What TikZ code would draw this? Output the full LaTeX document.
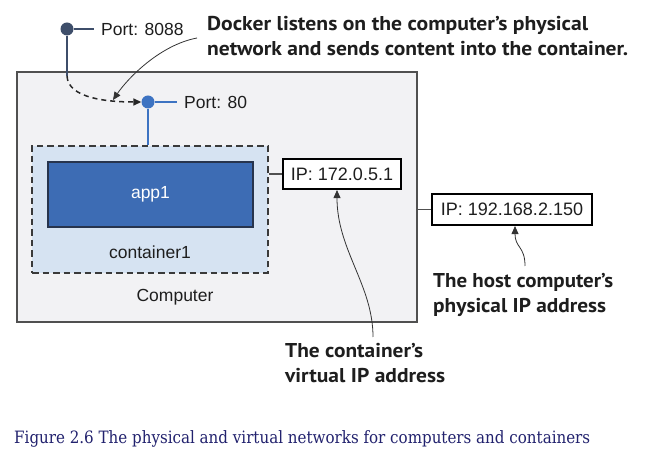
\documentclass[tikz,border=0pt]{standalone}
\usepackage{fontspec}
\setmainfont{Liberation Sans}
\newfontfamily\callfont{PT Sans}
\newfontfamily\capfont{DejaVu Serif}
\usetikzlibrary{arrows.meta}
\definecolor{compfill}{HTML}{F2F2F4}
\definecolor{compdraw}{HTML}{505050}
\definecolor{contfill}{HTML}{D6E3F2}
\definecolor{contdraw}{HTML}{3A3A3A}
\definecolor{appfill}{HTML}{3D6CB4}
\definecolor{appdraw}{HTML}{27344D}
\definecolor{portA}{HTML}{3E4E6A}
\definecolor{portB}{HTML}{3D73C2}
\definecolor{capcol}{HTML}{22226E}
\definecolor{txt}{HTML}{1E1E1E}
\tikzset{
  lbl/.style={font=\fontsize{17.5}{20}\selectfont, text=txt, inner sep=0pt},
  computerbox/.style={draw=compdraw, fill=compfill, line width=1.6pt, inner sep=0pt},
  containerbox/.style={draw=contdraw, fill=contfill, line width=1.5pt, dash pattern=on 6.5pt off 4pt, inner sep=0pt},
  appbox/.style={draw=appdraw, fill=appfill, line width=1.5pt, text=white, font=\fontsize{17.5}{20}\selectfont, inner sep=0pt},
  ipbox/.style={draw=black, fill=white, line width=2.1pt, text=txt, font=\fontsize{18}{20}\selectfont, inner sep=0pt},
  portdot/.style={circle, minimum size=13pt, inner sep=0pt},
  portlbl/.style={lbl, anchor=west, inner xsep=7pt},
  conn/.style={draw=compdraw, line width=1.4pt},
  dashconn/.style={draw=black!85, line width=1.5pt, dash pattern=on 5pt off 4pt, -{Triangle[length=8pt,width=7pt]}},
  callarrow/.style={draw=black!80, line width=0.8pt, -{Triangle[length=8pt,width=7pt]}},
  call/.style={font=\fontsize{20}{24}\callfont\bfseries, text=txt, inner sep=0pt, anchor=base west},
  caption/.style={font=\fontsize{17}{20}\capfont, text=capcol, inner sep=0pt, anchor=base west}
}
\begin{document}
\begin{tikzpicture}[x=1pt,y=-1pt]
\useasboundingbox (0,0) rectangle (648,454);
\fill[white] (0,0) rectangle (648,454);

% boxes
\node[computerbox, minimum width=400pt, minimum height=250pt] (computer) at (217,197) {};
\node[containerbox, minimum width=236pt, minimum height=127pt] (container) at (150,209.5) {};
\node[appbox, minimum width=205pt, minimum height=65pt] (app) at (150.5,194.5) {app1};
\node[lbl] (containerlbl) at (150,252) {container1};
\node[lbl] (computerlbl) at (175,297) {Computer};
\node[ipbox, minimum width=118pt, minimum height=30pt] (ip1) at (342,174) {IP: 172.0.5.1};
\node[ipbox, minimum width=160pt, minimum height=31pt] (ip2) at (512,209.5) {IP: 192.168.2.150};
\draw[conn] (container.east |- ip1) -- (ip1.west);
\draw[conn] (computer.east |- ip2) -- (ip2.west);

% ports
\node[portdot, fill=portA] (dotA) at (67,29) {};
\node[portlbl] (lblA) at (94,29) {Port: 8088};
\draw[portA, line width=2.6pt] (dotA) -- (lblA.west);
\node[portdot, fill=portB] (dotB) at (148,102) {};
\node[portlbl] (lblB) at (177,102) {Port: 80};
\draw[portB, line width=2.6pt] (dotB) -- (lblB.west);
\draw[portB, line width=2.8pt] (dotB) -- (dotB |- container.north);
\coordinate (bendA) at (67,76);
\draw[portA, line width=2.8pt] (dotA) -- (bendA);
\draw[dashconn] (bendA) .. controls (68,99) and (110,102) .. (dotB.west);

% callouts
\node[call] (dock1) at (207,31) {\resizebox{381pt}{\height}{Docker listens on the computer’s physical}};
\node[call] (dock2) at (207,56) {\resizebox{421pt}{\height}{network and sends content into the container.}};
\coordinate (dockStart) at (197,38);
\coordinate (dockEnd) at (113,100);
\draw[callarrow] (dockStart) .. controls (160,45) and (128,78) .. (dockEnd);

\node[call] (host1) at (433,288) {\resizebox{180pt}{\height}{The host computer’s}};
\node[call] (host2) at (433,313) {\resizebox{173pt}{\height}{physical IP address}};
\coordinate (hostStart) at (525,266);
\draw[callarrow] (hostStart) .. controls (525,246) and (515,248) .. ([xshift=3pt]ip2.south);

\node[call] (cont1) at (285,358) {\resizebox{138pt}{\height}{The container’s}};
\node[call] (cont2) at (285,383) {\resizebox{160pt}{\height}{virtual IP address}};
\coordinate (contStart) at (373,337);
\draw[callarrow] (contStart) .. controls (373,285) and (337,250) .. ([xshift=-5pt]ip1.south);

% caption
\node[caption] (cap) at (14,443) {\resizebox{576pt}{\height}{Figure 2.6 The physical and virtual networks for computers and containers}};
\end{tikzpicture}
\end{document}
